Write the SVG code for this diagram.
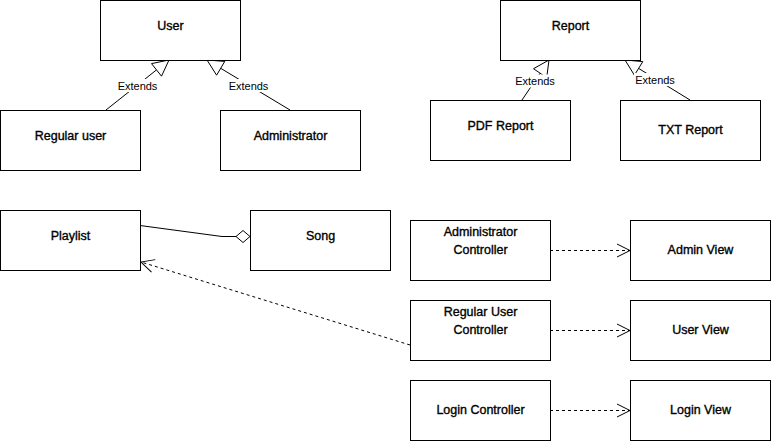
<svg xmlns="http://www.w3.org/2000/svg" width="771" height="441" viewBox="0 0 771 441">
<defs>
<style>
.box{fill:#fff;stroke:#000;stroke-width:1}
.t{font-family:"Liberation Sans",Arial,sans-serif;font-size:12.5px;fill:#000;stroke:#000;stroke-width:0.35;text-anchor:middle}
.lbl{font-family:"Liberation Sans",Arial,sans-serif;font-size:11px;fill:#000;text-anchor:middle}
.ln{fill:none;stroke:#000;stroke-width:1}
.dash{fill:none;stroke:#000;stroke-width:1;stroke-dasharray:3 3}
.tri{fill:#fff;stroke:#000;stroke-width:1}
.lb{fill:#fff}
</style>
<marker id="open" markerUnits="userSpaceOnUse" markerWidth="16" markerHeight="16" refX="13" refY="6.5" orient="auto" overflow="visible">
<path d="M0,0 L13,6.5 L0,13" fill="none" stroke="#000" stroke-width="1"/>
</marker>
</defs>
<rect width="771" height="441" fill="#fff"/>
<g id="connectors">
<polyline class="ln" points="106,110 156.5,69.9"/>
<polygon class="tri" points="169,60 161.5,76.2 151.5,63.6"/>
<rect class="lb" x="116" y="79" width="43" height="13"/>
<text class="lbl" x="137.5" y="89.5">Extends</text>
<polyline class="ln" points="290,110 220.7,68.3"/>
<polygon class="tri" points="207,60 216.6,75.2 224.8,61.4"/>
<rect class="lb" x="227" y="79" width="43" height="13"/>
<text class="lbl" x="248.5" y="89.5">Extends</text>
<polyline class="ln" points="522,100 540.1,73.2"/>
<polygon class="tri" points="549,60 546.7,77.7 533.5,68.7"/>
<rect class="lb" x="514" y="74.5" width="43" height="13"/>
<text class="lbl" x="535" y="85">Extends</text>
<polyline class="ln" points="690,100 638.6,68.4"/>
<polygon class="tri" points="625,60 634.4,75.2 642.8,61.6"/>
<rect class="lb" x="634" y="73" width="43" height="13"/>
<text class="lbl" x="655" y="83.5">Extends</text>
<polyline class="ln" points="140,225.5 222,236.5 236,236.5"/>
<polygon class="tri" points="236,236.5 243,230.5 250,236.5 243,242.5"/>
<line class="dash" x1="410" y1="345" x2="141" y2="262" marker-end="url(#open)"/>
<line class="dash" x1="550" y1="250.5" x2="630" y2="250.5" marker-end="url(#open)"/>
<line class="dash" x1="550" y1="330.5" x2="630" y2="330.5" marker-end="url(#open)"/>
<line class="dash" x1="550" y1="410.5" x2="630" y2="410.5" marker-end="url(#open)"/>
</g>
<g id="user"><rect class="box" x="100.5" y="0.5" width="140" height="60"/><text class="t" x="170.5" y="30">User</text></g>
<g id="regular-user"><rect class="box" x="0.5" y="110.5" width="140" height="60"/><text class="t" x="70.5" y="140">Regular user</text></g>
<g id="administrator"><rect class="box" x="220.5" y="110.5" width="140" height="60"/><text class="t" x="290.5" y="140">Administrator</text></g>
<g id="report"><rect class="box" x="500.5" y="0.5" width="140" height="60"/><text class="t" x="570.5" y="30">Report</text></g>
<g id="pdf-report"><rect class="box" x="430.5" y="100.5" width="140" height="60"/><text class="t" x="500.5" y="130">PDF Report</text></g>
<g id="txt-report"><rect class="box" x="620.5" y="100.5" width="140" height="60"/><text class="t" x="690.5" y="134">TXT Report</text></g>
<g id="playlist"><rect class="box" x="0.5" y="210.5" width="140" height="60"/><text class="t" x="70.5" y="240">Playlist</text></g>
<g id="song"><rect class="box" x="250.5" y="210.5" width="140" height="60"/><text class="t" x="320.5" y="240">Song</text></g>
<g id="admin-controller"><rect class="box" x="410.5" y="220.5" width="140" height="60"/><text class="t" x="480.5" y="236">Administrator</text><text class="t" x="480.5" y="254">Controller</text></g>
<g id="admin-view"><rect class="box" x="630.5" y="220.5" width="140" height="60"/><text class="t" x="700.5" y="254">Admin View</text></g>
<g id="regular-user-controller"><rect class="box" x="410.5" y="300.5" width="140" height="60"/><text class="t" x="480.5" y="316">Regular User</text><text class="t" x="480.5" y="334">Controller</text></g>
<g id="user-view"><rect class="box" x="630.5" y="300.5" width="140" height="60"/><text class="t" x="700.5" y="334">User View</text></g>
<g id="login-controller"><rect class="box" x="410.5" y="380.5" width="140" height="60"/><text class="t" x="480.5" y="414">Login Controller</text></g>
<g id="login-view"><rect class="box" x="630.5" y="380.5" width="140" height="60"/><text class="t" x="700.5" y="414">Login View</text></g>
</svg>
